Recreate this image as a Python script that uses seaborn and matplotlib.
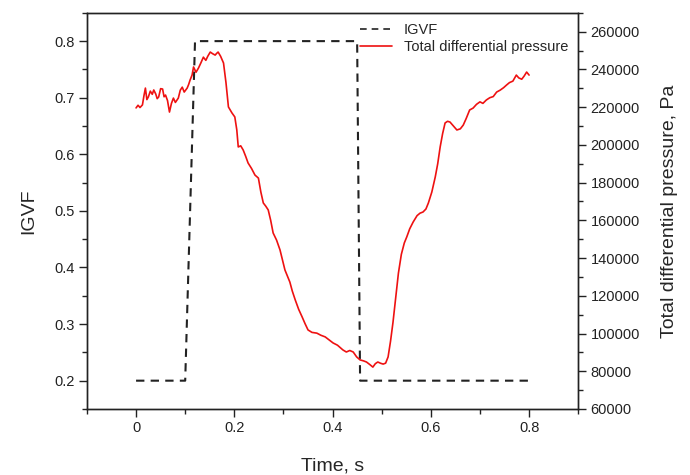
import numpy as np
import pandas as pd
import matplotlib
matplotlib.use("Agg")
import matplotlib.pyplot as plt
import seaborn as sns
from matplotlib.ticker import MultipleLocator

# IGVF step signal
igvf_t = [0.0, 0.1, 0.12, 0.45, 0.456, 0.8]
igvf_v = [0.2, 0.2, 0.8, 0.8, 0.2, 0.2]

# Total differential pressure (Pa)
dp_t = [0.0, 0.004, 0.008, 0.013, 0.016, 0.019, 0.022, 0.025, 0.029, 0.033, 0.036,
        0.04, 0.043, 0.046, 0.05, 0.054, 0.057, 0.06, 0.064, 0.068, 0.072, 0.076,
        0.08, 0.086, 0.09, 0.094, 0.098, 0.104, 0.107, 0.11, 0.114, 0.117, 0.122,
        0.127, 0.132, 0.137, 0.142, 0.146, 0.151, 0.156, 0.161, 0.164, 0.167, 0.172,
        0.178, 0.183, 0.188, 0.195, 0.201, 0.205, 0.208, 0.213, 0.218, 0.223, 0.228,
        0.235, 0.242, 0.249, 0.254, 0.259, 0.264, 0.269, 0.274, 0.279, 0.286, 0.293,
        0.298, 0.303, 0.308, 0.313, 0.318, 0.324, 0.331, 0.338, 0.344, 0.35, 0.358,
        0.368, 0.376, 0.385, 0.393, 0.401, 0.41, 0.421, 0.428, 0.435, 0.442, 0.449,
        0.456, 0.463, 0.469, 0.476, 0.482, 0.487, 0.492, 0.498, 0.503, 0.508, 0.513,
        0.518, 0.523, 0.528, 0.534, 0.54, 0.546, 0.551, 0.557, 0.564, 0.572, 0.578,
        0.584, 0.59, 0.595, 0.602, 0.609, 0.614, 0.619, 0.624, 0.629, 0.634, 0.639,
        0.646, 0.653, 0.66, 0.666, 0.672, 0.679, 0.686, 0.693, 0.7, 0.706, 0.713,
        0.72, 0.727, 0.734, 0.741, 0.748, 0.754, 0.76, 0.767, 0.774, 0.779, 0.785,
        0.79, 0.795, 0.8]
dp_v = [219600, 221000, 219800, 221200, 226000, 230100, 224000, 225400, 228500, 226800, 229100,
        227000, 224500, 225400, 229800, 229600, 225500, 226400, 223500, 217400, 222000, 224800,
        222500, 224800, 229000, 230600, 228000, 230100, 232000, 234400, 237000, 241300, 238500,
        240700, 243500, 246500, 244800, 247000, 249200, 248300, 247600, 248500, 249200, 247000,
        243400, 233000, 220100, 217000, 214800, 208000, 198900, 199500, 197300, 194000, 190400,
        187500, 184000, 182400, 175000, 169200, 167500, 165500, 160000, 153300, 149500, 144300,
        139000, 133700, 130500, 127300, 122500, 117800, 112800, 108800, 105200, 101900, 100600,
        100200, 99100, 98200, 96600, 95000, 93800, 91300, 90200, 91000, 90200, 87600,
        86000, 85500, 84900, 83500, 82200, 84000, 84900, 84200, 83800, 84300, 87600,
        96000, 106000, 118000, 132000, 142000, 148000, 151200, 155500, 159100, 162500, 163800,
        164400, 166000, 169200, 175000, 183000, 190000, 198900, 206000, 211600, 212500, 212100,
        210000, 207900, 208500, 210500, 214000, 218500, 219500, 221500, 222800, 222000, 223800,
        225000, 225600, 228000, 229000, 230300, 231700, 233000, 233800, 237000, 235500, 234800,
        236500, 238600, 237000]

sns.set_style("ticks")
plt.rcParams['font.family'] = ['Liberation Sans', 'DejaVu Sans']
plt.rcParams['axes.linewidth'] = 1.0

fig = plt.figure(figsize=(6.9, 4.75), dpi=100)
ax = fig.add_axes([0.126, 0.139, 0.712, 0.834])
ax2 = ax.twinx()

df1 = pd.DataFrame({"t": igvf_t, "v": igvf_v})
df2 = pd.DataFrame({"t": dp_t, "v": dp_v})

sns.lineplot(data=df1, x="t", y="v", ax=ax, color="#222222", lw=1.5,
             estimator=None, sort=False, legend=False)
ax.lines[0].set_dashes((4, 3))
sns.lineplot(data=df2, x="t", y="v", ax=ax2, color="#ee1111", lw=1.2,
             estimator=None, sort=False, legend=False)

ax.set_xlim(-0.1, 0.9)
ax.set_ylim(0.15, 0.85)
ax2.set_ylim(60000, 270000)

ax.xaxis.set_major_locator(MultipleLocator(0.2))
ax.xaxis.set_minor_locator(MultipleLocator(0.1))
ax.yaxis.set_major_locator(MultipleLocator(0.1))
ax.yaxis.set_minor_locator(MultipleLocator(0.05))
ax2.yaxis.set_major_locator(MultipleLocator(20000))
ax2.yaxis.set_minor_locator(MultipleLocator(10000))

ax.set_xticks([0, 0.2, 0.4, 0.6, 0.8])
ax.set_xticklabels(["0", "0.2", "0.4", "0.6", "0.8"])

for a in (ax, ax2):
    a.tick_params(which="major", direction="out", length=5.5, width=1, labelsize=10.5, colors="#222222")
    a.tick_params(which="minor", direction="out", length=3.5, width=1, colors="#222222")
    for s in a.spines.values():
        s.set_visible(True)
        s.set_color("#222222")

ax.set_xlabel("Time, s", fontsize=14, labelpad=16)
ax.set_ylabel("IGVF", fontsize=14, labelpad=12)
ax2.set_ylabel("Total differential pressure, Pa", fontsize=14, labelpad=15)

h1 = ax.lines[0]
h2 = ax2.lines[0]
leg = ax.legend([h1, h2], ["IGVF", "Total differential pressure"], loc="upper right",
                frameon=False, fontsize=10.5, handlelength=2.2, bbox_to_anchor=(1.0, 1.0),
                borderaxespad=0.3, labelspacing=0.2)
leg.get_lines()[0].set_linewidth(1.2)

fig.savefig("out.png", dpi=100)
